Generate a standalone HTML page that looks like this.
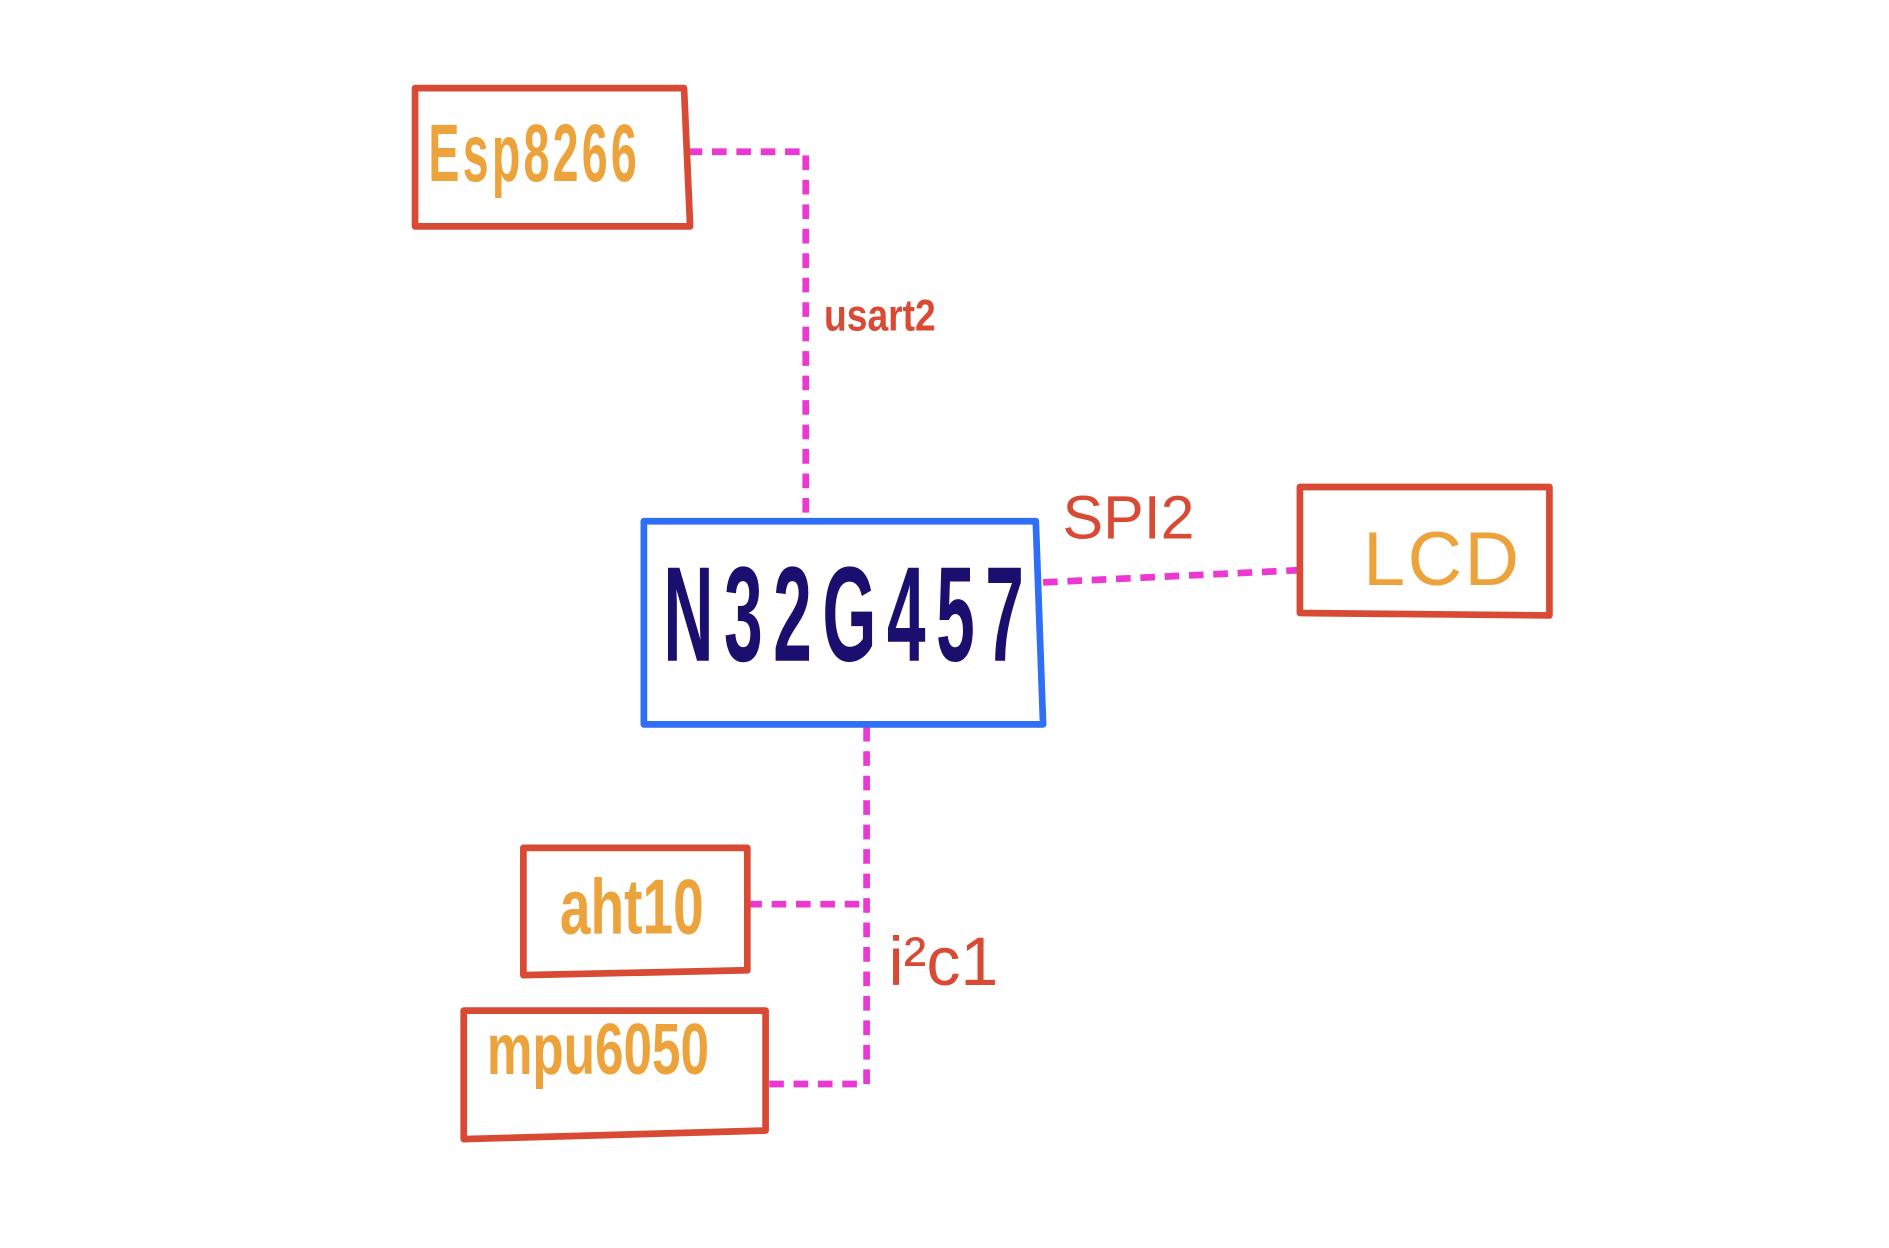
<!DOCTYPE html>
<html><head><meta charset="utf-8"><style>
html,body{margin:0;padding:0;background:#fff;}
svg{display:block;}
text{font-family:"Liberation Sans",sans-serif;}
</style></head><body>
<svg width="1889" height="1248" viewBox="0 0 1552 1020" preserveAspectRatio="none" xmlns="http://www.w3.org/2000/svg">
<rect width="1552" height="1020" fill="#fff"/>
<g fill="none" stroke="#ec38d2" stroke-width="5.5" stroke-dasharray="12,8">
<polyline points="565,124 662,124 662,425"/>
<line x1="857" y1="476" x2="1068" y2="466"/>
<polyline points="712,594 712,886 630,886"/>
<line x1="614" y1="739" x2="712" y2="739"/>
</g>
<g fill="#fff" stroke="#d94a35" stroke-width="5.5" stroke-linejoin="round">
<polygon points="341,72 562,72 567,185 341,185"/>
<polygon points="1068,398 1273,398 1273,503 1068,501"/>
<polygon points="430,693 614,693 614,793 430,797"/>
<polygon points="381,826 629,826 629,924 381,931"/>
</g>
<polygon points="529,426 851,426 857,592 529,592" fill="#fff" stroke="#2f6ff5" stroke-width="5.5" stroke-linejoin="round"/>
<g fill="#eda33b" font-weight="bold">
<text x="352" y="148" font-size="58" transform="translate(352,148) scale(0.66,1.15) translate(-352,-148)" letter-spacing="4">Esp8266</text>
<text x="1120" y="478" font-size="62" font-weight="normal" letter-spacing="2">LCD</text>
<text x="460" y="763" font-size="58" transform="translate(460,763) scale(0.78,1.1) translate(-460,-763)">aht10</text>
<text x="400" y="878" font-size="54" transform="translate(400,878) scale(0.78,1.1) translate(-400,-878)">mpu6050</text>
</g>
<text x="545" y="540" font-size="92" fill="#1a0f6e" font-weight="bold" transform="translate(545,540) scale(0.62,1.2) translate(-545,-540)" letter-spacing="14">N32G457</text>
<g fill="#d94a35" font-weight="bold">
<text x="677" y="270" font-size="36" transform="translate(677,270) scale(0.85,1) translate(-677,-270)">usart2</text>
<text x="873" y="440" font-size="50" font-weight="normal">SPI2</text>
<text x="730" y="805" font-size="56" font-weight="normal">i²c1</text>
</g>
</svg>
</body></html>
